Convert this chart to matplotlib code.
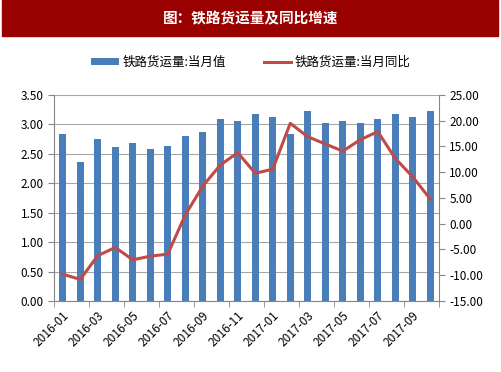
import matplotlib
matplotlib.use("Agg")
import matplotlib.pyplot as plt
import numpy as np
from matplotlib.patches import Rectangle

plt.rcParams['font.family'] = ['Noto Sans CJK SC', 'DejaVu Sans']

# 数据
months = ['2016-01', '2016-02', '2016-03', '2016-04', '2016-05', '2016-06',
          '2016-07', '2016-08', '2016-09', '2016-10', '2016-11', '2016-12',
          '2017-01', '2017-02', '2017-03', '2017-04', '2017-05', '2017-06',
          '2017-07', '2017-08', '2017-09', '2017-10']
volume = [2.83, 2.36, 2.75, 2.61, 2.68, 2.58, 2.63, 2.81, 2.87, 3.09, 3.06,
          3.17, 3.12, 2.83, 3.23, 3.02, 3.05, 3.02, 3.10, 3.17, 3.12, 3.23]
yoy = [-9.8, -10.8, -6.2, -4.6, -7.0, -6.3, -5.9, 1.7, 7.3, 11.4, 13.8,
       9.8, 10.6, 19.5, 16.9, 15.5, 14.1, 16.3, 17.9, 12.7, 9.1, 4.8]

title = '图：铁路货运量及同比增速'
bar_label = '铁路货运量:当月值'
line_label = '铁路货运量:当月同比'

fig = plt.figure(figsize=(5.02, 3.72), dpi=100)

# 标题红条
fig.patches.append(Rectangle((0.004, 1 - 36/372), 0.988, 36/372,
                             transform=fig.transFigure, color='#990000', zorder=0))
fig.text(0.5, 1 - 18/372, title, color='white', fontsize=10.5,
         fontweight='bold', ha='center', va='center')

ax = fig.add_axes([54/502, 1 - 301/372, 385/502, 206/372])
x = np.arange(len(months))
ax.bar(x, volume, width=0.42, color='#4A7EBB', label=bar_label, zorder=2)
ax.set_ylim(0, 3.5)
ax.set_yticks(np.arange(0, 3.51, 0.5))
ax.set_yticklabels(['%.2f' % v for v in np.arange(0, 3.51, 0.5)], fontsize=8.5)
ax.set_xlim(-0.5, len(months) - 0.5)
ax.grid(axis='y', color='#A6A6A6', linewidth=0.8, zorder=0)
ax.set_axisbelow(True)

ax.set_xticks(x[::2])
ax.set_xticklabels(months[::2], rotation=45, ha='right', rotation_mode='anchor',
                   fontsize=8.5)
ax.tick_params(axis='x', which='major', length=0, pad=6)
ax.set_xticks(np.arange(-0.5, len(months), 2), minor=True)
ax.tick_params(axis='x', which='minor', length=4, color='#868686')
ax.tick_params(axis='y', length=4, color='#868686')

for s in ['top', 'right']:
    ax.spines[s].set_visible(False)
for s in ['left', 'bottom']:
    ax.spines[s].set_color('#868686')

ax2 = ax.twinx()
ax2.plot(x, yoy, color='#BE4B48', linewidth=2.2, label=line_label, zorder=3)
ax2.set_ylim(-15, 25)
ax2.set_yticks(np.arange(-15, 25.1, 5))
ax2.set_yticklabels(['%.2f' % v for v in np.arange(-15, 25.1, 5)], fontsize=8.5)
ax2.tick_params(axis='y', length=4, color='#868686')
for s in ['top', 'left', 'bottom']:
    ax2.spines[s].set_visible(False)
ax2.spines['right'].set_color('#868686')

h1, l1 = ax.get_legend_handles_labels()
h2, l2 = ax2.get_legend_handles_labels()
fig.legend(h1 + h2, l1 + l2, loc='center', bbox_to_anchor=(0.5, 1 - 62/372),
           ncol=2, frameon=False, fontsize=9, handlelength=2.2,
           handleheight=0.5, columnspacing=3.0, handletextpad=0.3)

fig.savefig('out.png', dpi=100)
